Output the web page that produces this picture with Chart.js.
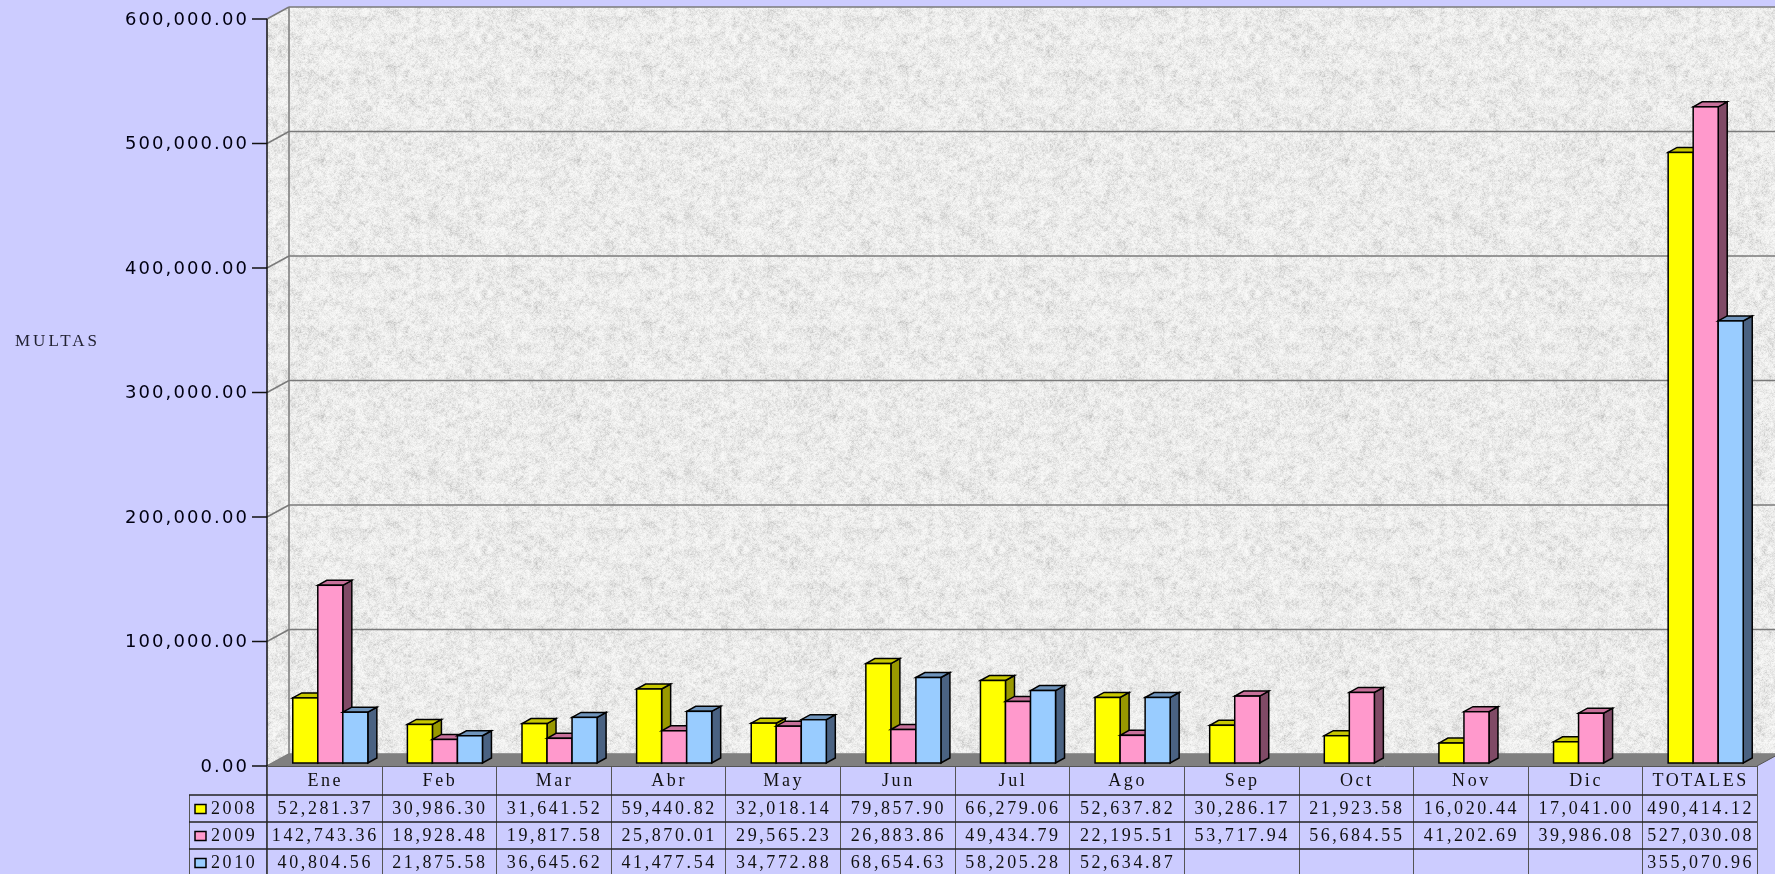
<!DOCTYPE html>
<html>
<head>
<meta charset="utf-8">
<script src="https://cdn.jsdelivr.net/npm/chart.js@4.4.1/dist/chart.umd.min.js"></script>
<style>
  html, body { margin: 0; padding: 0; background: #CCCCFF; overflow: hidden; }
  canvas { display: block; }
</style>
</head>
<body>
<canvas id="c" width="1775" height="874"></canvas>
<script>
// ---------- DATA ----------
const categories = ['Ene','Feb','Mar','Abr','May','Jun','Jul','Ago','Sep','Oct','Nov','Dic','TOTALES'];
const seriesNames = ['2008','2009','2010'];
const s2008 = [52281.37, 30986.30, 31641.52, 59440.82, 32018.14, 79857.90, 66279.06, 52637.82, 30286.17, 21923.58, 16020.44, 17041.00, 490414.12];
const s2009 = [142743.36, 18928.48, 19817.58, 25870.01, 29565.23, 26883.86, 49434.79, 22195.51, 53717.94, 56684.55, 41202.69, 39986.08, 527030.08];
const s2010 = [40804.56, 21875.58, 36645.62, 41477.54, 34772.88, 68654.63, 58205.28, 52634.87, null, null, null, null, 355070.96];
const yMin = 0, yMax = 600000, yStep = 100000;
const yAxisTitle = 'MULTAS';

// ---------- STYLE ----------
const faceColors = ['#FFFF00', '#FF99CC', '#99CCFF'];
const topColors  = ['#C8C800', '#C8709A', '#6F94BC'];
const sideColors = ['#999900', '#804A66', '#4A6282'];
const WX = 22, WY = -12;       // wall depth
const BX0 = 6, BY0 = -3;       // bar depth position
const BDX = 9, BDY = -5;       // bar thickness
const fmt = v => v.toLocaleString('en-US', {minimumFractionDigits: 2, maximumFractionDigits: 2});

// deterministic granite texture
function hash(x, y) {
  const s = Math.sin(x * 12.9898 + y * 78.233) * 43758.5453;
  return s - Math.floor(s);
}
function vnoise(x, y) {
  const xi = Math.floor(x), yi = Math.floor(y);
  const xf = x - xi, yf = y - yi;
  const a = hash(xi, yi), b = hash(xi + 1, yi), c = hash(xi, yi + 1), d = hash(xi + 1, yi + 1);
  const u = xf * xf * (3 - 2 * xf), v = yf * yf * (3 - 2 * yf);
  return a + (b - a) * u + (c - a) * v + (a - b - c + d) * u * v;
}
function makeTexture(ctx) {
  const S = 256;
  const off = document.createElement('canvas');
  off.width = S; off.height = S;
  const o = off.getContext('2d');
  const img = o.createImageData(S, S);
  for (let y = 0; y < S; y++) {
    for (let x = 0; x < S; x++) {
      const n = 0.3 * vnoise(x / 6, y / 6) + 0.35 * vnoise(x / 2 + 50, y / 2 + 50) + 0.35 * hash(x + 7, y + 3);
      const g = Math.round(250 - Math.pow(1 - n, 2) * 60);
      const i = (y * S + x) * 4;
      img.data[i] = g; img.data[i + 1] = g; img.data[i + 2] = g - 1; img.data[i + 3] = 255;
    }
  }
  o.putImageData(img, 0, 0);
  return ctx.createPattern(off, 'repeat');
}

let texture = null;

const scenePlugin = {
  id: 'scene',
  beforeDraw(chart) {
    const ctx = chart.ctx;
    const ca = chart.chartArea;
    const xs = chart.scales.x, ys = chart.scales.y;
    const W = chart.width, H = chart.height;
    if (!texture) texture = makeTexture(ctx);
    ctx.save();
    ctx.fillStyle = '#CCCCFF';
    ctx.fillRect(0, 0, W, H);

    const yTop = ys.getPixelForValue(yMax);
    const yZero = ys.getPixelForValue(0);
    // back wall
    ctx.fillStyle = texture;
    ctx.fillRect(ca.left + WX, yTop + WY, W - (ca.left + WX), yZero - yTop);
    // left wall
    ctx.beginPath();
    ctx.moveTo(ca.left, yTop);
    ctx.lineTo(ca.left + WX, yTop + WY);
    ctx.lineTo(ca.left + WX, yZero + WY);
    ctx.lineTo(ca.left, yZero);
    ctx.closePath();
    ctx.fill();

    // grid lines on back wall + diagonals
    ctx.strokeStyle = '#7A7A7A';
    ctx.lineWidth = 1.5;
    ys.ticks.forEach(t => {
      const yf = ys.getPixelForValue(t.value);
      ctx.beginPath();
      ctx.moveTo(ca.left + WX, yf + WY);
      ctx.lineTo(W, yf + WY);
      ctx.stroke();
      ctx.beginPath();
      ctx.moveTo(ca.left, yf);
      ctx.lineTo(ca.left + WX, yf + WY);
      ctx.stroke();
    });
    // wall corner
    ctx.beginPath();
    ctx.moveTo(ca.left + WX, yTop + WY);
    ctx.lineTo(ca.left + WX, yZero + WY);
    ctx.stroke();

    // floor
    ctx.fillStyle = '#808080';
    ctx.beginPath();
    ctx.moveTo(ca.left, yZero);
    ctx.lineTo(ca.left + WX, yZero + WY);
    ctx.lineTo(ca.right + WX, yZero + WY);
    ctx.lineTo(ca.right, yZero);
    ctx.closePath();
    ctx.fill();
    ctx.strokeStyle = '#555';
    ctx.lineWidth = 1;
    ctx.beginPath();
    ctx.moveTo(ca.right, yZero);
    ctx.lineTo(ca.right + WX, yZero + WY);
    ctx.stroke();

    // y axis line and ticks
    ctx.strokeStyle = '#111';
    ctx.lineWidth = 1.5;
    ctx.beginPath();
    ctx.moveTo(ca.left, yTop);
    ctx.lineTo(ca.left, H);
    ctx.stroke();
    ctx.font = '18px "DejaVu Sans"';
    ctx.fillStyle = '#000011';
    ctx.textAlign = 'right';
    ctx.textBaseline = 'middle';
    ctx.letterSpacing = '2.1px';
    ys.ticks.forEach(t => {
      const yf = ys.getPixelForValue(t.value);
      ctx.beginPath();
      ctx.moveTo(ca.left - 15, yf);
      ctx.lineTo(ca.left, yf);
      ctx.stroke();
      ctx.fillText(fmt(t.value), ca.left - 18, yf + 1);
    });

    // axis title
    ctx.font = '17px "Liberation Serif"';
    ctx.letterSpacing = '3px';
    ctx.textAlign = 'left';
    ctx.fillStyle = '#222233';
    ctx.fillText(yAxisTitle, 15, (ys.getPixelForValue(400000) + ys.getPixelForValue(300000)) / 2 + 11);

    // ---------- data table ----------
    const n = categories.length;
    const cw = (ca.right - ca.left) / n;
    const hdrTop = yZero, hdrBot = yZero + 29;
    const rowH = 27;
    const legLeft = 189;
    const rows = [s2008, s2009, s2010];

    ctx.font = '18px "Liberation Serif"';
    ctx.letterSpacing = '2.6px';
    ctx.textAlign = 'center';
    ctx.fillStyle = '#111111';
    categories.forEach((c, i) => {
      const cx = xs.getPixelForValue(i);
      ctx.fillText(c, cx + 1, (hdrTop + hdrBot) / 2 + 1);
    });
    rows.forEach((arr, r) => {
      const yc = hdrBot + r * rowH + rowH / 2 + 1;
      arr.forEach((v, i) => {
        if (v === null || v === undefined) return;
        ctx.fillText(fmt(v), xs.getPixelForValue(i) + 1, yc);
      });
      // legend
      ctx.save();
      ctx.fillStyle = faceColors[r];
      ctx.fillRect(195, yc - 5, 11, 9);
      ctx.strokeStyle = '#000';
      ctx.lineWidth = 1.5;
      ctx.strokeRect(195, yc - 5, 11, 9);
      ctx.restore();
      ctx.textAlign = 'left';
      ctx.fillText(seriesNames[r], 211, yc);
      ctx.textAlign = 'center';
    });
    ctx.letterSpacing = '0px';

    // table lines
    ctx.strokeStyle = '#555';
    ctx.lineWidth = 1;
    for (let i = 0; i <= n; i++) {
      const x = Math.round(ca.left + i * cw) + 0.5;
      ctx.beginPath();
      ctx.moveTo(x, hdrTop);
      ctx.lineTo(x, H);
      ctx.stroke();
    }
    ctx.beginPath();
    ctx.moveTo(legLeft + 0.5, hdrBot);
    ctx.lineTo(legLeft + 0.5, H);
    ctx.stroke();
    ctx.strokeStyle = '#222';
    ctx.lineWidth = 1.5;
    for (let r = 0; r < 3; r++) {
      const y = hdrBot + r * rowH;
      ctx.beginPath();
      ctx.moveTo(legLeft, y);
      ctx.lineTo(ca.right, y);
      ctx.stroke();
    }
    ctx.strokeStyle = '#555';
    ctx.lineWidth = 1;
    ctx.beginPath();
    ctx.moveTo(ca.left, hdrTop + 0.5);
    ctx.lineTo(ca.right, hdrTop + 0.5);
    ctx.stroke();
    ctx.restore();
  },
  beforeDatasetsDraw(chart) {
    const ctx = chart.ctx;
    const n = categories.length;
    ctx.save();
    ctx.lineWidth = 1.5;
    ctx.strokeStyle = '#000';
    ctx.lineJoin = 'miter';
    for (let i = 0; i < n; i++) {
      chart.data.datasets.forEach((ds, d) => {
        const v = ds.data[i];
        if (v === null || v === undefined) return;
        const el = chart.getDatasetMeta(d).data[i];
        const x0 = el.x - el.width / 2 + BX0, x1 = el.x + el.width / 2 + BX0;
        const yt = el.y + BY0, yb = el.base + BY0;
        // side
        ctx.fillStyle = sideColors[d];
        ctx.beginPath();
        ctx.moveTo(x1, yt); ctx.lineTo(x1 + BDX, yt + BDY); ctx.lineTo(x1 + BDX, yb + BDY); ctx.lineTo(x1, yb);
        ctx.closePath(); ctx.fill(); ctx.stroke();
        // top
        ctx.fillStyle = topColors[d];
        ctx.beginPath();
        ctx.moveTo(x0, yt); ctx.lineTo(x0 + BDX, yt + BDY); ctx.lineTo(x1 + BDX, yt + BDY); ctx.lineTo(x1, yt);
        ctx.closePath(); ctx.fill(); ctx.stroke();
        // front
        ctx.fillStyle = faceColors[d];
        ctx.fillRect(x0, yt, x1 - x0, yb - yt);
        ctx.strokeRect(x0, yt, x1 - x0, yb - yt);
      });
    }
    ctx.restore();
    return false;
  }
};

new Chart(document.getElementById('c'), {
  type: 'bar',
  data: {
    labels: categories,
    datasets: [
      { label: seriesNames[0], data: s2008, backgroundColor: faceColors[0] },
      { label: seriesNames[1], data: s2009, backgroundColor: faceColors[1] },
      { label: seriesNames[2], data: s2010, backgroundColor: faceColors[2] }
    ]
  },
  options: {
    responsive: false,
    devicePixelRatio: 1,
    animation: false,
    layout: { padding: { left: 267, top: 19, right: 18, bottom: 108 } },
    datasets: { bar: { categoryPercentage: 0.655, barPercentage: 1.0 } },
    plugins: { legend: { display: false }, tooltip: { enabled: false }, title: { display: false } },
    scales: {
      x: { type: 'category', display: false, offset: true },
      y: { display: false, min: yMin, max: yMax, ticks: { stepSize: yStep } }
    }
  },
  plugins: [scenePlugin]
});
</script>
</body>
</html>
